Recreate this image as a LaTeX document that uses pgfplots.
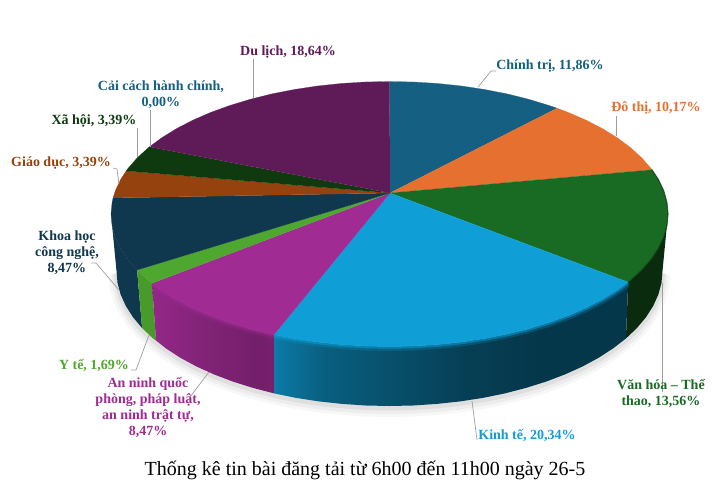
\documentclass[border=0pt]{standalone}
\usepackage{fontspec}
\setmainfont{Liberation Serif}
\usepackage{pgfplots}
\usepackage{pgfplotstable}
\pgfplotsset{compat=1.18}

\definecolor{cChinhTri}{HTML}{156082}
\definecolor{cDoThi}{HTML}{E67030}
\definecolor{cVanHoa}{HTML}{196B24}
\definecolor{cKinhTe}{HTML}{0F9ED5}
\definecolor{cAnNinh}{HTML}{A02B93}
\definecolor{cYTe}{HTML}{4EA72E}
\definecolor{cKhoaHoc}{HTML}{0F374D}
\definecolor{cGiaoDuc}{HTML}{95420F}
\definecolor{cXaHoi}{HTML}{0F3A10}
\definecolor{cDuLich}{HTML}{5F1B58}

\tikzset{
  lab/.style={font=\fontsize{14}{16}\selectfont\bfseries, align=center, inner sep=0pt},
  lead/.style={color=black!38, line width=0.7pt},
  wedge/.style={fill=#1, draw=#1, line width=0.2pt}
}
\pgfplotsset{
  rimlight/.style={color=#1, line width=5pt, opacity=0.22, yshift=-2pt, skip coords between index={0}{1}},
  rimcore/.style={color=#1, line width=2.5pt, opacity=0.5, yshift=-1pt, skip coords between index={0}{1}},
  rimdark/.style={color=#1, line width=1.2pt, opacity=0.6, skip coords between index={0}{1}}
}

\pgfdeclarehorizontalshading{sideKinhTe}{100bp}{
  color(0bp)=(cKinhTe!78!black); color(25bp)=(cKinhTe!78!black);
  color(32bp)=(cKinhTe!60!black); color(52bp)=(cKinhTe!40!black);
  color(62bp)=(cKinhTe!35!black); color(75bp)=(cKinhTe!35!black); color(100bp)=(cKinhTe!35!black)}
\pgfdeclarehorizontalshading{sideAnNinh}{100bp}{
  color(0bp)=(cAnNinh!92!black); color(25bp)=(cAnNinh!92!black);
  color(45bp)=(cAnNinh!82!black); color(68bp)=(cAnNinh!72!black); color(75bp)=(cAnNinh!75!black); color(100bp)=(cAnNinh!75!black)}

% rim of the top face, first row is the centre of the pie
\pgfplotstableread{
x y
390 193
389.5 81.5
413.8 82.0
437.9 83.5
461.6 86.0
484.7 89.5
507.2 93.9
528.8 99.3
549.2 105.5
557.1 108.2
}\topChinhTri
\pgfplotstableread{
x y
390 193
557.1 108.2
568.5 112.5
586.4 120.3
602.8 128.8
617.6 138.0
630.7 147.7
641.9 158.0
651.2 168.7
652.0 169.8
}\topDoThi
\pgfplotstableread{
x y
390 193
652.0 169.8
658.5 179.7
663.8 191.0
666.9 202.5
668.0 214
666.9 225.5
663.8 237.0
658.5 248.3
651.2 259.3
641.9 270.0
630.7 280.3
628.2 282.2
}\topVanHoa
\pgfplotstableread{
x y
390 193
628.2 282.2
617.6 290.0
602.8 299.2
586.4 307.7
568.5 315.5
549.2 322.5
528.8 328.7
507.2 334.1
484.7 338.5
461.6 342.0
437.9 344.5
413.8 346.0
389.5 346.5
365.2 346.0
341.1 344.5
317.4 342.0
294.3 338.5
274.0 334.6
}\topKinhTe
\pgfplotstableread{
x y
390 193
274.0 334.6
250.2 328.7
229.8 322.5
210.5 315.5
192.6 307.7
176.2 299.2
161.4 290.0
152.0 283.2
}\topAnNinh
\pgfplotstableread{
x y
390 193
152.0 283.2
148.3 280.3
137.1 270.0
}\topYTe
\pgfplotstableread{
x y
390 193
137.1 270.0
127.8 259.3
120.5 248.3
115.2 237.0
112.1 225.5
111.0 214
112.1 202.5
113.1 197.9
}\topKhoaHoc
\pgfplotstableread{
x y
390 193
113.1 197.9
115.2 191.0
120.5 179.7
126.2 170.9
}\topGiaoDuc
\pgfplotstableread{
x y
390 193
126.2 170.9
127.8 168.7
137.1 158.0
148.3 147.7
149.5 146.8
}\topXaHoi
\pgfplotstableread{
x y
390 193
149.5 146.8
161.4 138.0
176.2 128.8
192.6 120.3
210.5 112.5
229.8 105.5
250.2 99.3
271.8 93.9
294.3 89.5
317.4 86.0
341.1 83.5
365.2 82.0
389.5 81.5
}\topDuLich

% bottom rim, front half
\pgfplotstableread{
x y
662.5 271
661.5 282.8
658.4 294.4
653.2 305.9
646.0 317.2
636.9 328.1
625.9 338.5
613.1 348.4
598.6 357.8
582.5 366.5
565.0 374.4
546.1 381.6
526.0 387.9
504.9 393.4
482.9 397.9
460.2 401.4
436.9 403.9
413.3 405.5
389.5 406
365.7 405.5
342.1 403.9
318.8 401.4
296.1 397.9
274.1 393.4
253.0 387.9
232.9 381.6
214.0 374.4
196.5 366.5
180.4 357.8
165.9 348.4
153.1 338.5
142.1 328.1
133.0 317.2
125.8 305.9
120.6 294.4
117.5 282.8
116.5 271
}\bottomRim

\begin{document}
\begin{tikzpicture}
\useasboundingbox (0,0) rectangle (721pt,496pt);
\begin{axis}[
    at={(0,0)},
    anchor=south west,
    scale only axis,
    width=721pt,
    height=496pt,
    xmin=0, xmax=721,
    ymin=0, ymax=496,
    y dir=reverse,
    hide axis,
    clip=false,
    no markers
]
% soft shadow under the pie
\addplot[color=black, opacity=0.03, line width=16pt, yshift=-3pt] table {\bottomRim};
\addplot[color=black, opacity=0.04, line width=10pt, yshift=-3pt] table {\bottomRim};
\addplot[color=black, opacity=0.06, line width=5pt, yshift=-2pt] table {\bottomRim};

% side walls
\addplot[fill=cVanHoa!40!black, draw=none] coordinates {
  (668.0,214) (666.9,225.5) (663.8,237.0) (658.5,248.3) (651.2,259.3) (641.9,270.0) (630.7,280.3) (628.2,282.2)
  (625.9,338.5) (636.9,328.1) (646.0,317.2) (653.2,305.9) (658.4,294.4) (661.5,282.8) (662.5,271)
};
\addplot[fill=cKhoaHoc, draw=none] coordinates {
  (137.1,270.0) (127.8,259.3) (120.5,248.3) (115.2,237.0) (112.1,225.5) (111.0,214)
  (116.5,271) (117.5,282.8) (120.6,294.4) (125.8,305.9) (133.0,317.2) (142.1,328.1)
};
\addplot[fill=cYTe!92!black, draw=none] coordinates {
  (152.0,283.2) (148.3,280.3) (137.1,270.0) (142.1,328.1) (153.1,338.5) (156,340.5)
};
\addplot[shading=sideAnNinh, draw=none] coordinates {
  (274.0,334.6) (250.2,328.7) (229.8,322.5) (210.5,315.5) (192.6,307.7) (176.2,299.2) (161.4,290.0) (152.0,283.2)
  (156,340.5) (165.9,348.4) (180.4,357.8) (196.5,366.5) (214.0,374.4) (232.9,381.6) (253.0,387.9) (274.1,393.4)
};
\addplot[shading=sideKinhTe, draw=none] coordinates {
  (628.2,282.2) (617.6,290.0) (602.8,299.2) (586.4,307.7) (568.5,315.5) (549.2,322.5) (528.8,328.7) (507.2,334.1)
  (484.7,338.5) (461.6,342.0) (437.9,344.5) (413.8,346.0) (389.5,346.5) (365.2,346.0) (341.1,344.5) (317.4,342.0)
  (294.3,338.5) (274.0,334.6)
  (274.1,393.4) (296.1,397.9) (318.8,401.4) (342.1,403.9) (365.7,405.5) (389.5,406) (413.3,405.5) (436.9,403.9)
  (460.2,401.4) (482.9,397.9) (504.9,393.4) (526.0,387.9) (546.1,381.6) (565.0,374.4) (582.5,366.5) (598.6,357.8)
  (613.1,348.4) (625.9,338.5)
};

% highlight along the front edge
\addplot[rimlight=cKinhTe] table {\topKinhTe};
\addplot[rimcore=cKinhTe] table {\topKinhTe};
\addplot[rimlight=cAnNinh] table {\topAnNinh};
\addplot[rimcore=cAnNinh] table {\topAnNinh};

% top face
\addplot[wedge=cChinhTri] table {\topChinhTri};
\addplot[wedge=cDoThi] table {\topDoThi};
\addplot[wedge=cVanHoa] table {\topVanHoa};
\addplot[wedge=cKinhTe] table {\topKinhTe};
\addplot[wedge=cAnNinh] table {\topAnNinh};
\addplot[wedge=cYTe] table {\topYTe};
\addplot[wedge=cKhoaHoc] table {\topKhoaHoc};
\addplot[wedge=cGiaoDuc] table {\topGiaoDuc};
\addplot[wedge=cXaHoi] table {\topXaHoi};
\addplot[wedge=cDuLich] table {\topDuLich};
\addplot[rimdark=cVanHoa!45!black] table {\topVanHoa};

% leader lines
\addplot[lead] coordinates {(253,59) (253,98)};
\addplot[lead] coordinates {(150,110) (150,147)};
\addplot[lead] coordinates {(137,128) (137,157)};
\addplot[lead] coordinates {(113,168) (117,169) (119,184)};
\addplot[lead] coordinates {(91,263) (96,263) (119,290)};
\addplot[lead] coordinates {(131,370) (136,370) (149,335)};
\addplot[lead] coordinates {(190,397) (209,372)};
\addplot[lead] coordinates {(477,440) (472,401)};
\addplot[lead] coordinates {(662,283) (662,392)};
\addplot[lead] coordinates {(616,116) (616,136)};
\addplot[lead] coordinates {(496,71) (491,71) (478,87)};

% labels
\node[lab, text=cDuLich] at (axis cs:288,52) {Du lịch, 18,64\%};
\node[lab, text=cChinhTri] at (axis cs:161,95) {Cải cách hành chính,\\0,00\%};
\node[lab, text=cXaHoi] at (axis cs:94,121) {Xã hội, 3,39\%};
\node[lab, text=cGiaoDuc] at (axis cs:61,163) {Giáo dục, 3,39\%};
\node[lab, text=cKhoaHoc] at (axis cs:67,253) {Khoa học\\công nghệ,\\8,47\%};
\node[lab, text=cYTe] at (axis cs:94,365) {Y tế, 1,69\%};
\node[lab, text=cAnNinh] at (axis cs:148,407) {An ninh quốc\\phòng, pháp luật,\\an ninh trật tự,\\8,47\%};
\node[lab, text=cKinhTe] at (axis cs:527,435) {Kinh tế, 20,34\%};
\node[lab, text=cVanHoa] at (axis cs:661,393) {Văn hóa – Thể\\thao, 13,56\%};
\node[lab, text=cDoThi] at (axis cs:656,108) {Đô thị, 10,17\%};
\node[lab, text=cChinhTri] at (axis cs:550,66) {Chính trị, 11,86\%};
\node[font=\fontsize{20}{24}\selectfont, inner sep=0pt] at (axis cs:365,470) {Thống kê tin bài đăng tải từ 6h00 đến 11h00 ngày 26-5};
\end{axis}
\end{tikzpicture}
\end{document}
